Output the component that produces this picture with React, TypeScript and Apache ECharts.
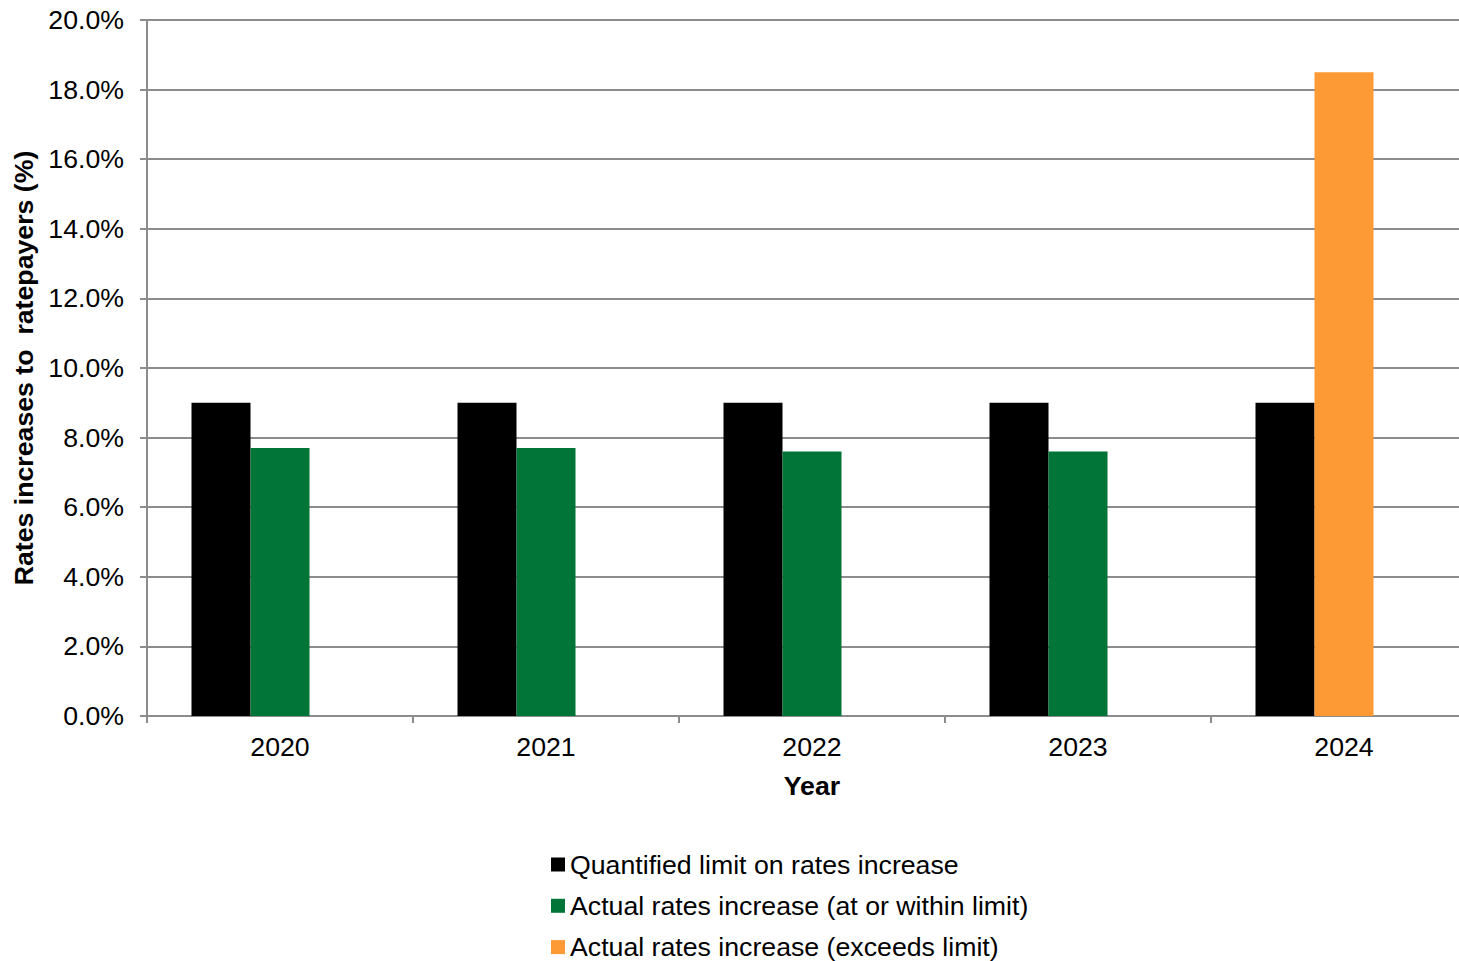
import React, { useEffect, useRef } from "react";
import * as echarts from "echarts";

// Rates increases vs. quantified limit, by year
const years = ["2020", "2021", "2022", "2023", "2024"];
const limitValues = [9.0, 9.0, 9.0, 9.0, 9.0];
const withinLimitValues: (number | null)[] = [7.7, 7.7, 7.6, 7.6, null];
const exceedsLimitValues: (number | null)[] = [null, null, null, null, 18.5];
const seriesNames = [
  "Quantified limit on rates increase",
  "Actual rates increase (at or within limit)",
  "Actual rates increase (exceeds limit)",
];

const FONT = "'Liberation Sans', Arial, sans-serif";
const GREY = "#8c8c8c";
const FS = 26.7;

export default function App() {
  const ref = useRef<HTMLDivElement>(null);

  useEffect(() => {
    if (!ref.current) return;
    const chart = echarts.init(ref.current, undefined, { renderer: "svg" });
    chart.setOption({
      animation: false,
      backgroundColor: "#ffffff",
      textStyle: { fontFamily: FONT, color: "#000" },
      // plot area runs past the right and bottom edges of the visible frame
      grid: { left: 147, top: 20, right: 3, bottom: 284, containLabel: false },
      legend: {
        data: seriesNames,
        orient: "vertical",
        left: 551,
        top: 851,
        padding: 0,
        itemWidth: 14,
        itemHeight: 14,
        itemGap: 14.3,
        icon: "rect",
        textStyle: { fontFamily: FONT, fontSize: FS, color: "#000" },
      },
      xAxis: {
        type: "category",
        data: years,
        name: "Year",
        nameLocation: "middle",
        nameGap: 56,
        nameTextStyle: { fontFamily: FONT, fontSize: FS, fontWeight: "bold", color: "#000" },
        axisLine: { lineStyle: { color: GREY, width: 2 } },
        axisTick: { show: true, length: 7, lineStyle: { color: GREY, width: 2 } },
        axisLabel: { fontFamily: FONT, fontSize: FS, color: "#000", margin: 17 },
      },
      yAxis: {
        type: "value",
        min: 0,
        max: 20,
        interval: 2,
        name: "Rates increases to  ratepayers (%)",
        nameLocation: "middle",
        nameGap: 107,
        nameRotate: 90,
        nameTextStyle: { fontFamily: FONT, fontSize: FS, fontWeight: "bold", color: "#000" },
        axisLine: { show: true, lineStyle: { color: GREY, width: 2 } },
        axisTick: { show: true, length: 7, lineStyle: { color: GREY, width: 2 } },
        axisLabel: {
          fontFamily: FONT,
          fontSize: FS,
          color: "#000",
          margin: 23,
          formatter: (v: number) => v.toFixed(1) + "%",
        },
        splitLine: { show: true, lineStyle: { color: GREY, width: 2 } },
      },
      series: [
        {
          name: seriesNames[0],
          type: "bar",
          data: limitValues,
          barWidth: 59,
          barGap: "0%",
          itemStyle: { color: "#000000" },
        },
        {
          name: seriesNames[1],
          type: "bar",
          stack: "actual",
          data: withinLimitValues,
          barWidth: 59,
          barGap: "0%",
          itemStyle: { color: "#017537" },
        },
        {
          name: seriesNames[2],
          type: "bar",
          stack: "actual",
          data: exceedsLimitValues,
          barWidth: 59,
          barGap: "0%",
          itemStyle: { color: "#FE9A35" },
        },
        {
          // empty third slot keeps each year's pair left of centre
          name: "spacer",
          type: "bar",
          data: years.map(() => null),
          barWidth: 59,
          barGap: "0%",
          silent: true,
        },
      ],
    });
    return () => chart.dispose();
  }, []);

  return (
    <div
      style={{
        position: "fixed",
        left: 0,
        top: 0,
        width: 1459,
        height: 961,
        overflow: "hidden",
        background: "#fff",
      }}
    >
      <div ref={ref} style={{ width: 1480, height: 1000 }} />
    </div>
  );
}
